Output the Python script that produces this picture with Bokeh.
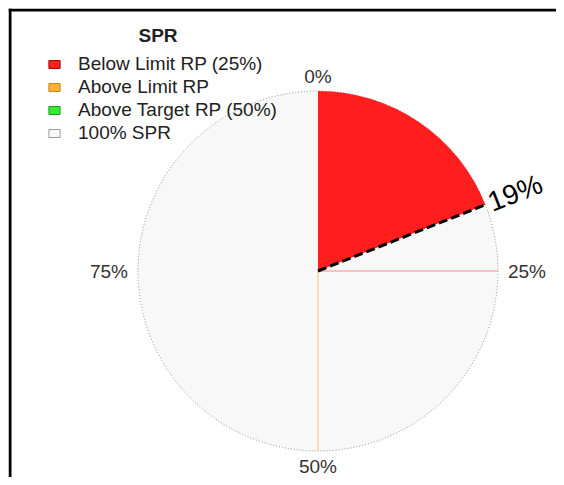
import math
from bokeh.plotting import figure
from bokeh.models import Range1d, Legend, LegendItem, Label, Span
from bokeh.core.properties import value
from bokeh.embed import file_html
from bokeh.resources import INLINE

# ---- data ----
legend_title = "SPR"
legend_labels = ["Below Limit RP (25%)", "Above Limit RP", "Above Target RP (50%)", "100% SPR"]
legend_fills = ["#ff1e1e", "#ffb232", "#35ec35", "#f8f8f8"]
legend_lines = ["#a80000", "#c88414", "#1f9a1f", "#9a9a9a"]
spr_value = 19          # percent of SPR
limit_rp = 25           # percent
target_rp = 50          # percent
tick_values = [0, 25, 50, 75]
tick_labels = ["0%", "25%", "50%", "75%"]

FONT = "Liberation Sans"
R = 180
W, H = 548, 469          # frame size
cx, cy = 309.5, 262.5    # pie centre inside the frame

def ang(pct):
    return math.pi / 2 - 2 * math.pi * pct / 100.0

p = figure(width=W + 8, height=H + 8,
           x_range=Range1d(-cx, W - cx), y_range=Range1d(-(H - cy), cy),
           output_backend="svg", toolbar_location=None,
           min_border=0, min_border_left=8, min_border_top=8,
           x_axis_location=None, y_axis_location=None,
           outline_line_color=None, background_fill_color="white",
           border_fill_color="white")
p.grid.visible = False

# background disc (100% SPR)
p.circle(x=[0], y=[0], radius=R, fill_color=legend_fills[3],
         line_color="#8c8c8c", line_dash="1 2", line_width=1)

# reference lines (limit, target)
refs = [limit_rp, target_rp]
p.segment(x0=[0, 0], y0=[0, 0],
          x1=[R * math.cos(ang(v)) for v in refs],
          y1=[R * math.sin(ang(v)) for v in refs],
          line_color=["#ff8c8c", "#ffc266"], line_width=1)

# SPR wedge
p.wedge(x=[0], y=[0], radius=R, start_angle=ang(0), end_angle=ang(spr_value),
        direction="clock", fill_color=legend_fills[0], line_color=None)

# dashed value line
a = ang(spr_value)
p.segment(x0=[0], y0=[0], x1=[R * math.cos(a)], y1=[R * math.sin(a)],
          line_color="black", line_width=3, line_dash="9 4")

# value label
p.text(x=[(R + 4) * math.cos(a)], y=[(R + 4) * math.sin(a)], text=[f"{spr_value}%"],
       angle=a, text_align="left", text_baseline="middle",
       text_font_size="28px", text_color="black", text_font=value(FONT))

# tick labels around the circle
tx, ty = [], []
for v in tick_values:
    t = 2 * math.pi * v / 100.0
    rr = R + 15 + 14 * abs(math.sin(t))
    tx.append(rr * math.cos(ang(v)))
    ty.append(rr * math.sin(ang(v)))
p.text(x=tx, y=ty, text=tick_labels, text_align="center", text_baseline="middle",
       text_font_size="19px", text_color="#333333", text_font=value(FONT))

# legend (hidden proxy renderers carry the swatch styles)
items = []
for lab, fc, lc in zip(legend_labels, legend_fills, legend_lines):
    r = p.quad(left=[0], right=[0], top=[0], bottom=[0], fill_color=fc,
               line_color=lc, line_width=1, visible=False)
    items.append(LegendItem(label=lab, renderers=[r]))
legend = Legend(items=items, location=(39, 332.7), orientation="vertical",
                glyph_width=14, glyph_height=10, label_standoff=17,
                label_text_font_size="19px", label_text_font=FONT,
                label_text_color="#222222", label_height=20, spacing=1,
                padding=0, margin=0, border_line_alpha=0, background_fill_alpha=0,
                click_policy="none")
p.add_layout(legend)

p.add_layout(Label(x=-160, y=235.5, text=legend_title, text_font_style="bold",
                   text_font_size="19px", text_font=FONT, text_color="#222222",
                   text_align="center", text_baseline="middle"))

# frame border (top and left)
p.add_layout(Span(location=cy - 1.5, dimension="width", line_color="black", line_width=3))
p.add_layout(Span(location=-cx + 1.5, dimension="height", line_color="black", line_width=3))

open("out.html", "w").write(file_html(p, INLINE))
